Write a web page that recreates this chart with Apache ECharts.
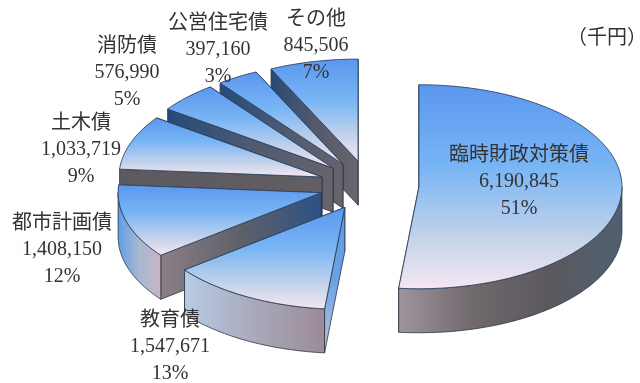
<!DOCTYPE html>
<html>
<head>
<meta charset="utf-8">
<style>html,body{margin:0;padding:0;background:#fff}#chart{width:640px;height:383px}</style>
<script src="https://cdn.jsdelivr.net/npm/echarts@6/dist/echarts.min.js"></script>
</head>
<body>
<div id="chart"></div>
<script>
// 地方債の内訳（千円）
const sliceNames = ['臨時財政対策債', '教育債', '都市計画債', '土木債', '消防債', '公営住宅債', 'その他'];
const sliceValues = [6190845, 1547671, 1408150, 1033719, 576990, 397160, 845506];
const percentLabels = ['51%', '13%', '12%', '9%', '5%', '3%', '7%'];
const unitLabel = '（千円）';

// Projected pie geometry
const PIE = { cx: 369, cy: 185.5, rx: 203, ry: 102, depth: 44, explode: 50 };

// Centre of each three-line label
const labelAnchors = [[519, 181], [170, 346], [62, 249], [81, 149], [127, 72], [218, 49], [316, 45]];

// Wall shading, left to right (top to bottom for the narrow 教育債 side wall)
const startWallStops = [
  ['#777', '#777'],
  ['#5c98e8', '#6aa2e2', '#b9c8da'],
  ['#8b7f87', '#5e6068', '#2c5285'],
  ['#5b5a5f', '#625e63'],
  ['#244b7c', '#4d5a72', '#68646a'],
  ['#244b7c', '#4d5a72', '#68646a'],
  ['#2a4a74', '#52596c', '#6a666b']
];
const rimStops = [
  ['#a0959d', '#6f686d', '#5c595e', '#4f5f70'],
  ['#b7cce3', '#a9a9bb', '#9b8b95'],
  ['#5d9de8', '#a9b8d0', '#c9b5c6'],
  ['#777', '#777'], ['#777', '#777'], ['#777', '#777'], ['#777', '#777']
];

const total = sliceValues.reduce((a, b) => a + b, 0);
const startAngles = [];
sliceValues.reduce((acc, v, i) => { startAngles[i] = acc; return acc + v / total * 360; }, 0);

const rad = d => d * Math.PI / 180;

function hGradient(stops) {
  return new echarts.graphic.LinearGradient(0, 0, 1, 0,
    stops.map((color, k) => ({ offset: k / (stops.length - 1), color })));
}
function vGradient(stops) {
  return new echarts.graphic.LinearGradient(0, 0, 0, 1,
    stops.map((color, k) => ({ offset: k / (stops.length - 1), color })));
}

function renderSlice(params, api) {
  const i = params.dataIndex;
  const sweep = api.value(0) / total * 360;
  const a0 = startAngles[i];
  const a1 = a0 + sweep;
  const mid = rad((a0 + a1) / 2);
  const ox = PIE.cx + PIE.explode * Math.sin(mid);
  const oy = PIE.cy - PIE.explode * 0.5 * Math.cos(mid);
  const pt = (deg, drop) => [
    ox + PIE.rx * Math.sin(rad(deg)),
    oy - PIE.ry * Math.cos(rad(deg)) + (drop || 0)
  ];
  const arc = (from, to, drop) => {
    const out = [];
    const n = Math.max(2, Math.ceil(to - from));
    for (let k = 0; k <= n; k++) out.push(pt(from + (to - from) * k / n, drop));
    return out;
  };
  const wall = deg => [[ox, oy], pt(deg), pt(deg, PIE.depth), [ox, oy + PIE.depth]];
  const base = (sliceValues.length - i) * 10;
  const edge = { stroke: '#2b3444', lineWidth: 0.8 };
  const children = [];

  children.push({ type: 'polygon', z2: base, shape: { points: wall(a1) },
    style: Object.assign({ fill: '#5f5c61' }, edge) });
  children.push({ type: 'polygon', z2: base + 1, shape: { points: wall(a0) },
    style: Object.assign({ fill: i === 1 ? vGradient(startWallStops[i]) : hGradient(startWallStops[i]) }, edge) });

  // Outer rim: only the part of the arc that faces the viewer
  const rimFrom = Math.max(a0, 90), rimTo = Math.min(a1, 270);
  if (rimTo > rimFrom) {
    const rim = arc(rimFrom, rimTo, 0).concat(arc(rimFrom, rimTo, PIE.depth).reverse());
    children.push({ type: 'polygon', z2: base + 2, shape: { points: rim },
      style: Object.assign({ fill: hGradient(rimStops[i]) }, edge) });
  }

  children.push({ type: 'polygon', z2: base + 3,
    shape: { points: [[ox, oy]].concat(arc(a0, a1, 0)) },
    style: {
      fill: new echarts.graphic.LinearGradient(0, 0, 0, 1, [
        { offset: 0, color: '#5a97ee' },
        { offset: 0.4, color: '#78b5f5' },
        { offset: 0.75, color: '#c3d3ea' },
        { offset: 1, color: '#f6e6f2' }
      ]),
      stroke: '#2f4464', lineWidth: 0.9
    } });

  children.push({ type: 'text', z2: 1000, style: {
    x: labelAnchors[i][0], y: labelAnchors[i][1] + 1,
    text: [sliceNames[i], api.value(0).toLocaleString('en-US'), percentLabels[i]].join('\n'),
    font: '20px "Liberation Serif", "Noto Sans CJK JP"',
    lineHeight: 26.5,
    align: 'center', verticalAlign: 'middle',
    fill: '#333333'
  } });

  return { type: 'group', children };
}

const chart = echarts.init(document.getElementById('chart'), null, { renderer: 'canvas' });
chart.setOption({
  animation: false,
  backgroundColor: '#fff',
  graphic: [{
    type: 'text', x: 607, y: 39, z: 10,
    style: { text: unitLabel, font: '20px "Liberation Serif", "Noto Sans CJK JP"',
      align: 'center', verticalAlign: 'middle', fill: '#333333' }
  }],
  series: [{
    type: 'custom',
    coordinateSystem: 'none',
    renderItem: renderSlice,
    encode: { value: 0 },
    data: sliceValues.map((v, i) => ({ name: sliceNames[i], value: [v] }))
  }]
});
</script>
</body>
</html>
